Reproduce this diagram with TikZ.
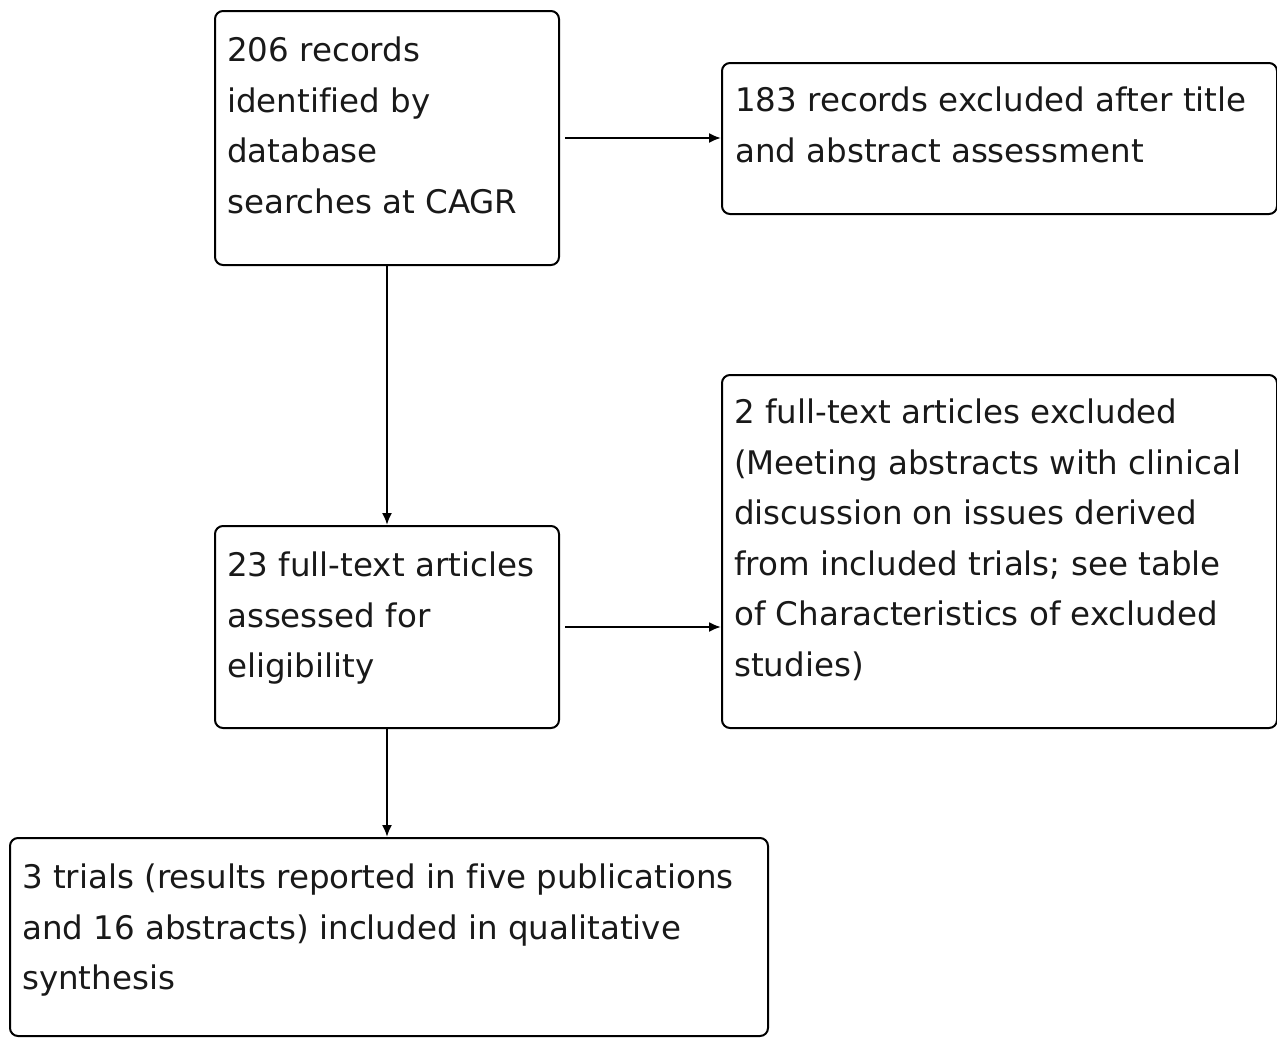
\documentclass[tikz,border=0pt]{standalone}
\usepackage{fontspec}
\setmainfont{DejaVu Sans}[Ligatures=CommonOff]
\usetikzlibrary{arrows.meta}
\begin{document}
\begin{tikzpicture}[x=1pt,y=-1pt,
  boxnode/.style={draw, line width=2pt, rounded corners=8pt, anchor=north west, inner sep=0pt},
  txt/.style={anchor=north west, inner sep=0pt, align=left, font={\fontsize{32.5}{50.5}\selectfont}, text=black!90},
  conn/.style={line width=2pt, -{Latex[length=12pt,width=10pt]}}]
\useasboundingbox (0,0) rectangle (1277,1037);
\node[boxnode, minimum width=344pt, minimum height=254pt] (A) at (214,10) {};
\node[boxnode, minimum width=555pt, minimum height=151pt] (B) at (721,62) {};
\node[boxnode, minimum width=344pt, minimum height=202pt] (C) at (214,525) {};
\node[boxnode, minimum width=555pt, minimum height=353pt] (D) at (721,374) {};
\node[boxnode, minimum width=758pt, minimum height=198pt] (E) at (9,837) {};
\node[txt] (tA) at (227,37) {206 records\\identified by\\database\\searches at CAGR};
\node[txt] (tB) at (735,87) {183 records excluded after title\\and abstract assessment};
\node[txt] (tC) at (227,552) {23 full-text articles\\assessed for\\eligibility};
\node[txt] (tD) at (734,399) {2 full-text articles excluded\\(Meeting abstracts with clinical\\discussion on issues derived\\from included trials; see table\\of Characteristics of excluded\\studies)};
\node[txt] (tE) at (22,864) {3 trials (results reported in five publications\\and 16 abstracts) included in qualitative\\synthesis};
\draw[conn, shorten <=5pt] (A.east) -- (A.east -| B.west);
\draw[conn] (A.south) -- (C.north);
\draw[conn, shorten <=5pt] (C.east) -- (C.east -| D.west);
\draw[conn] (C.south) -- (C.south |- E.north);
\end{tikzpicture}
\end{document}
